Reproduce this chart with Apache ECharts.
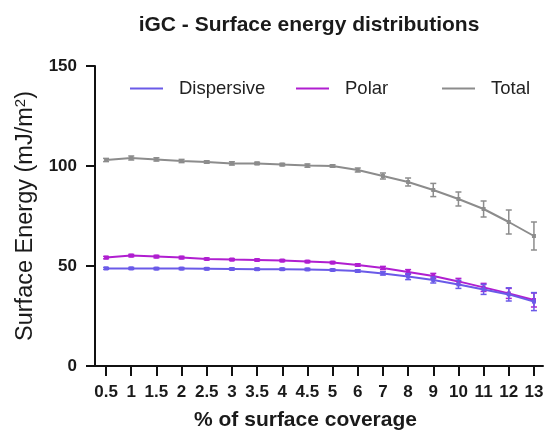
<!DOCTYPE html>
<html><head><meta charset="utf-8">
<script src="https://cdn.jsdelivr.net/npm/echarts@6/dist/echarts.min.js"></script>
<style>html,body{margin:0;padding:0;background:#fff}#c{width:544px;height:434px}</style>
</head><body><div id="c"></div>
<script>
var categories = ['0.5','1','1.5','2','2.5','3','3.5','4','4.5','5','6','7','8','9','10','11','12','13'];
var dispersive = [48.8,48.8,48.7,48.7,48.6,48.5,48.4,48.4,48.3,48.0,47.5,46.3,44.7,43.0,40.8,38.3,35.8,32.2];
var dispersiveErr = [0.5,0.5,0.5,0.5,0.5,0.5,0.5,0.5,0.5,0.5,0.6,0.8,1.5,1.5,2.0,2.5,3.3,4.5];
var polar = [54.2,55.2,54.7,54.2,53.5,53.2,53.0,52.7,52.2,51.7,50.5,49.0,47.0,45.0,42.3,39.3,36.3,33.0];
var polarErr = [0.6,0.6,0.6,0.6,0.5,0.5,0.5,0.5,0.5,0.5,0.6,0.8,1.2,1.3,1.5,2.0,2.5,3.5];
var total = [103.0,104.0,103.3,102.5,102.0,101.3,101.3,100.7,100.2,100.0,98.0,95.0,92.0,88.0,83.5,78.5,72.0,65.0];
var totalErr = [0.8,1.0,0.8,0.8,0.6,0.8,0.6,0.6,0.8,0.6,1.0,1.5,2.0,3.3,3.5,4.0,6.0,7.0];
var yTicks = [0,50,100,150];

var colors = {Dispersive:'#6a5ae8', Polar:'#b01ed0', Total:'#8c8c8c'};
var FONT = 'Liberation Sans, Arial, sans-serif';

function pts(arr){ return arr.map(function(v,i){return [i,v];}); }
function errData(arr, err){ return arr.map(function(v,i){return [i, v-err[i], v+err[i]];}); }
function errSeries(name, arr, err, z){
  return {
    type:'custom', name:name, z:z, silent:true,
    data: errData(arr, err),
    renderItem: function(params, api){
      var x = api.value(0);
      var lo = api.coord([x, api.value(1)]);
      var hi = api.coord([x, api.value(2)]);
      var w = 3;
      var st = {stroke: colors[name], lineWidth: 1.5};
      return {type:'group', children:[
        {type:'line', shape:{x1:lo[0],y1:lo[1],x2:hi[0],y2:hi[1]}, style:st},
        {type:'line', shape:{x1:lo[0]-w,y1:lo[1],x2:lo[0]+w,y2:lo[1]}, style:st},
        {type:'line', shape:{x1:hi[0]-w,y1:hi[1],x2:hi[0]+w,y2:hi[1]}, style:st}
      ]};
    }
  };
}
function lineSeries(name, arr, z){
  return {
    type:'line', name:name, z:z, data: pts(arr),
    symbol:'rect', symbolSize:4, showSymbol:true,
    lineStyle:{width:2, color:colors[name]},
    itemStyle:{color:colors[name]},
    emphasis:{disabled:true}
  };
}
var idx = categories.map(function(c,i){return i;});
var legendBase = {top:74, itemWidth:33, itemHeight:20, itemGap:10,
  textStyle:{fontFamily:FONT, fontSize:18.5, color:'#222', padding:[0,0,0,11]},
  icon:'path://M0,9 L33,9 L33,11 L0,11 Z'};
var chart = echarts.init(document.getElementById('c'), null, {renderer:'canvas'});
chart.setOption({
  animation:false,
  backgroundColor:'#fff',
  title:{text:'iGC - Surface energy distributions', left:304, textAlign:'center', top:10,
    textStyle:{fontFamily:FONT, fontSize:21, fontWeight:'bold', color:'#1a1a1a'}},
  legend:[
    Object.assign({}, legendBase, {left:125, data:[{name:'Dispersive', itemStyle:{color:colors.Dispersive}}]}),
    Object.assign({}, legendBase, {left:291, data:[{name:'Polar', itemStyle:{color:colors.Polar}}]}),
    Object.assign({}, legendBase, {left:437, data:[{name:'Total', itemStyle:{color:colors.Total}}]})
  ],
  grid:{left:95, right:1, top:66, bottom:68, containLabel:false, outerBoundsMode:'none'},
  xAxis:{
    type:'value', min:-0.44, max:17.36,
    name:'% of surface coverage', nameLocation:'middle', nameGap:44,
    nameTextStyle:{fontFamily:FONT, fontSize:21, fontWeight:'bold', color:'#1a1a1a', padding:[0,27,0,0]},
    axisLine:{show:true, onZero:false, lineStyle:{color:'#111', width:2}},
    axisTick:{show:true, length:10, lineStyle:{color:'#111', width:2}, customValues: idx},
    axisLabel:{customValues: idx, formatter:function(v){return categories[Math.round(v)];},
      fontFamily:FONT, fontSize:17, fontWeight:'bold', color:'#1a1a1a', margin:18},
    splitLine:{show:false}
  },
  yAxis:{
    type:'value', min:0, max:150, interval:50,
    name:'Surface Energy (mJ/m{sup|2})', nameLocation:'middle', nameGap:57,
    nameTextStyle:{fontFamily:FONT, fontSize:23.5, color:'#1a1a1a',
      rich:{sup:{fontFamily:FONT, fontSize:15, color:'#1a1a1a', verticalAlign:'top', padding:[0,0,10,0]}}},
    axisLine:{show:true, onZero:false, lineStyle:{color:'#111', width:2}},
    axisTick:{show:true, length:9, lineStyle:{color:'#111', width:2}},
    axisLabel:{fontFamily:FONT, fontSize:17, fontWeight:'bold', color:'#1a1a1a', margin:18,
      customValues: yTicks},
    splitLine:{show:false}
  },
  series:[
    errSeries('Total', total, totalErr, 1),
    lineSeries('Total', total, 2),
    errSeries('Polar', polar, polarErr, 3),
    lineSeries('Polar', polar, 4),
    errSeries('Dispersive', dispersive, dispersiveErr, 5),
    lineSeries('Dispersive', dispersive, 6)
  ]
});
</script></body></html>
